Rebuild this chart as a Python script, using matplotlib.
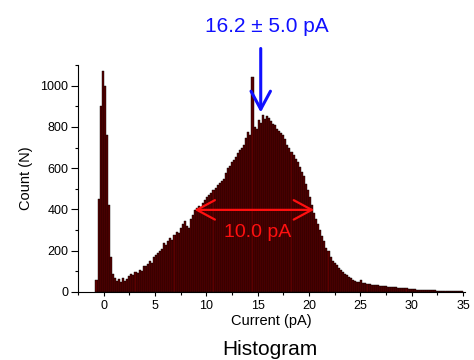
import numpy as np
import matplotlib
matplotlib.use('Agg')
import matplotlib.pyplot as plt

plt.rcParams['font.family'] = ['Liberation Sans', 'DejaVu Sans']

# histogram of current values, 0.2 pA bins starting at -0.8 pA
bin_start = -0.8
bin_width = 0.2
counts = [
    60, 450, 900, 1070,                 # -0.8 .. -0.2
    1000, 760, 420, 170, 85,            # 0
    70, 55, 62, 48, 66,                 # 1
    54, 62, 78, 86, 84,                 # 2
    95, 92, 108, 102, 124,              # 3
    128, 135, 148, 142, 170,            # 4
    178, 188, 198, 210, 236,            # 5
    228, 246, 260, 252, 278,            # 6
    290, 285, 312, 330, 342,            # 7
    318, 310, 352, 372, 396,            # 8
    405, 418, 412, 432, 448,            # 9
    462, 470, 478, 494, 505,            # 10
    518, 530, 540, 548, 575,            # 11
    600, 612, 630, 642, 655,            # 12
    672, 690, 700, 712, 745,            # 13
    775, 762, 1040, 800, 790,           # 14
    835, 818, 860, 840, 852,            # 15
    845, 830, 812, 808, 790,            # 16
    780, 770, 760, 740, 710,            # 17
    698, 680, 662, 645, 630,            # 18
    605, 580, 560, 525, 495,            # 19
    460, 420, 385, 352, 330,            # 20
    300, 272, 245, 215, 198,            # 21
    170, 152, 140, 132, 118,            # 22
    105, 96, 88, 80, 72,                # 23
    66, 58, 55, 50, 48,                 # 24
    58, 45, 42, 38, 40,                 # 25
    36, 35, 33, 34, 30,                 # 26
    30, 28, 27, 26, 25,                 # 27
    24, 22, 23, 20, 19,                 # 28
    18, 18, 17, 15, 15,                 # 29
    14, 13, 12, 12, 11,                 # 30
    10, 10, 9, 9, 8,                    # 31
    8, 8, 7, 7, 6,                      # 32
    6, 6, 5, 5, 5,                      # 33
    5, 4, 4, 4, 4,                      # 34
]

peak_label = '16.2 \u00b1 5.0 pA'
peak_x = 15.3
fwhm_left, fwhm_right, half_max = 8.85, 20.5, 398
fwhm_label = '10.0 pA'

left_edges = bin_start + bin_width * np.arange(len(counts))

fig = plt.figure(figsize=(4.74, 3.6), dpi=100)
ax = fig.add_axes([0.1646, 0.1889, 0.8164, 0.6305])

ax.bar(left_edges, counts, width=bin_width, align='edge',
       color='#5c0000', edgecolor='black', linewidth=0.3)

ax.set_xlim(-2, 35.2)
ax.set_ylim(0, 1100)
ax.set_xticks([0, 5, 10, 15, 20, 25, 30, 35])
ax.set_xticks(np.arange(-2.5, 35.1, 2.5), minor=True)
ax.set_yticks([0, 200, 400, 600, 800, 1000])
ax.set_yticks(np.arange(0, 1101, 100), minor=True)
for s in ['top', 'right']:
    ax.spines[s].set_visible(False)
ax.tick_params(axis='y', which='major', length=5, width=0.8, labelsize=9, pad=2)
ax.tick_params(axis='y', which='minor', length=2.5, width=0.8)
ax.tick_params(axis='x', which='major', length=3, width=0.8, labelsize=9, pad=3)
ax.tick_params(axis='x', which='minor', length=2.5, width=0.8)
ax.set_xlabel('Current (pA)', fontsize=10.5, labelpad=1)
ax.set_ylabel('Count (N)', fontsize=10.5, labelpad=5)

# mean arrow
ax.annotate('', xy=(peak_x, 870), xytext=(peak_x, 1180),
            arrowprops=dict(arrowstyle='->,head_length=1.3,head_width=0.7',
                            color='#1010ff', lw=2.2, mutation_scale=10,
                            shrinkA=0, shrinkB=0),
            annotation_clip=False)
ax.text(15.9, 1285, peak_label, color='#1010ff', fontsize=15,
        ha='center', va='center', clip_on=False)

# FWHM arrow
ax.annotate('', xy=(fwhm_left, half_max), xytext=(fwhm_right, half_max),
            arrowprops=dict(arrowstyle='<->,head_length=1.3,head_width=0.7',
                            color='#ff1010', lw=1.6, mutation_scale=10,
                            shrinkA=0, shrinkB=0))
ax.text(15.0, 290, fwhm_label, color='#ff1010', fontsize=14,
        ha='center', va='center')

fig.text(0.57, 0.03, 'Histogram', fontsize=15, ha='center', va='center')

fig.savefig('out.png', dpi=100)
